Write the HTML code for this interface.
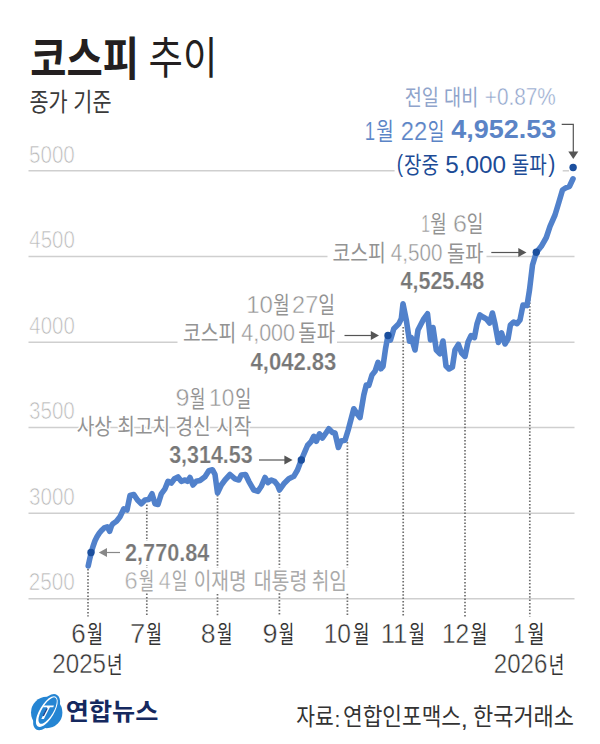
<!DOCTYPE html>
<html lang="ko">
<head>
<meta charset="utf-8">
<title>코스피 추이</title>
<style>
html,body{margin:0;padding:0;background:#fff;}
body{width:600px;height:744px;overflow:hidden;font-family:"Liberation Sans","Noto Sans CJK KR",sans-serif;}
svg{display:block;}
svg text{font-family:"Liberation Sans","Noto Sans CJK KR",sans-serif;}
</style>
</head>
<body>
<svg width="600" height="744" viewBox="0 0 600 744">
<rect width="600" height="744" fill="#fff"/>
<g stroke="#cfcfcf" stroke-width="1.5" fill="none">
<line x1="28.5" y1="170.8" x2="394.6" y2="170.8"/>
<line x1="562.7" y1="170.8" x2="569" y2="170.8"/>
<line x1="28.5" y1="256.4" x2="327.5" y2="256.4"/>
<line x1="486.5" y1="256.4" x2="574.5" y2="256.4"/>
<line x1="28.5" y1="342.2" x2="177.5" y2="342.2"/>
<line x1="337" y1="342.2" x2="574.5" y2="342.2"/>
<line x1="28.5" y1="427.6" x2="574.5" y2="427.6"/>
<line x1="28.5" y1="513.2" x2="574.5" y2="513.2"/>
<line x1="28.5" y1="598.75" x2="574.5" y2="598.75"/>
</g>
<g class="yl">
<text x="28.98" y="162.5" font-size="23.92" textLength="45.83" lengthAdjust="spacingAndGlyphs" fill="#b8b8b8" stroke="#fff" stroke-width="0.7">5000</text>
<text x="29.33" y="248.1" font-size="23.92" textLength="45.47" lengthAdjust="spacingAndGlyphs" fill="#b8b8b8" stroke="#fff" stroke-width="0.7">4500</text>
<text x="29.33" y="333.9" font-size="23.92" textLength="45.47" lengthAdjust="spacingAndGlyphs" fill="#b8b8b8" stroke="#fff" stroke-width="0.7">4000</text>
<text x="29.02" y="419.3" font-size="23.92" textLength="45.79" lengthAdjust="spacingAndGlyphs" fill="#b8b8b8" stroke="#fff" stroke-width="0.7">3500</text>
<text x="29.02" y="504.9" font-size="23.92" textLength="45.79" lengthAdjust="spacingAndGlyphs" fill="#b8b8b8" stroke="#fff" stroke-width="0.7">3000</text>
<text x="28.76" y="590.45" font-size="23.92" textLength="46.05" lengthAdjust="spacingAndGlyphs" fill="#b8b8b8" stroke="#fff" stroke-width="0.7">2500</text>
</g>
<g stroke="#6e6e6e" stroke-width="1.7" stroke-dasharray="1.5 1.8" fill="none">
<line x1="88" y1="569" x2="88" y2="616.5"/>
<line x1="146.8" y1="504.5" x2="146.8" y2="616.5"/>
<line x1="217.5" y1="495" x2="217.5" y2="616.5"/>
<line x1="279.4" y1="491" x2="279.4" y2="616.5"/>
<line x1="347.4" y1="442" x2="347.4" y2="616.5"/>
<line x1="403.2" y1="327" x2="403.2" y2="616.5"/>
<line x1="465" y1="357.5" x2="465" y2="616.5"/>
<line x1="529.8" y1="296" x2="529.8" y2="616.5"/>
</g>
<path d="M88.2 566 L89.6 559.5 L91.25 552.5 L93 546.5 L95 540.8 L97 536.8 L99.2 533.3 L101.5 530.5 L104.2 527.9 L107.3 526.8 L109.6 531.3 L111.2 526.5 L112.6 524 L116.5 521.3 L120 516.8 L123.8 508.8 L127 510 L130 495.5 L133.8 494.5 L137.5 500 L141.3 503.8 L145 500 L148.8 499.5 L152 493.8 L155 503.8 L158 504.5 L161.3 493.8 L165 488.8 L168 481.3 L171.3 483 L174.5 478.8 L178 477 L181.3 481.3 L185 480 L187.5 481.3 L190 477.5 L193 485 L196.3 481.3 L200 480.5 L205 476.8 L208.8 470.8 L212.5 469.8 L215 474.5 L217.5 493 L221.3 485 L225 480 L230 474.5 L235 478.8 L238.8 480 L241.3 475 L245.5 474.5 L248.8 481.3 L253.8 490 L258 491.3 L261.3 486.3 L265 477.5 L268 482.5 L271.3 480 L274.5 481.3 L277.5 485 L279.5 490 L283.8 483.8 L288.8 478.8 L293.8 476.3 L297.5 470 L301.3 460 L305 451.3 L307.5 445.5 L311.3 441.3 L313.8 436.3 L316.3 441.3 L319.5 433.8 L322.5 438 L326.3 432.5 L328.8 428.8 L332.5 432.5 L335 433 L338.4 447.5 L341 441 L345 440.3 L348.2 430 L353.8 408.8 L357 413.8 L360 417.5 L363.8 395 L366.3 385 L368.8 385.5 L372 375 L375 371.3 L378 362.5 L380.8 368.8 L383 366.3 L385.5 348.8 L388 335.5 L390.5 340 L393.8 328.8 L398.8 323.8 L401.3 318.8 L403 303.8 L406.3 320 L409.5 341.3 L411.3 337.5 L415 350 L418 330 L423.8 318.8 L427.5 313.8 L430.5 340 L433 327.5 L436.3 350 L440 353.8 L443 341 L446 366 L449 369 L452.4 367 L455 350 L458.4 344.4 L461.6 353 L465 356.4 L468 342 L471 335.6 L474.4 337.6 L477 324 L480 315 L483 317 L486.4 319 L489.6 323 L492.4 313 L495 324 L498.4 342.4 L501.6 333 L505 344 L508 339 L510.4 325 L513.6 322 L517 323.6 L520 320 L523 305 L527 305.6 L529.5 290 L532.5 265 L536.3 252.5 L541.3 246.3 L546.3 237.5 L550 226.3 L555 215 L558.8 202.5 L562.5 190 L565.5 188 L569.5 186.3 L573 178.8" fill="none" stroke="#5181cb" stroke-width="5.6" stroke-linejoin="round" stroke-linecap="round"/>
<circle cx="91" cy="552.5" r="3.7" fill="#1b4f9e"/>
<circle cx="301.3" cy="460" r="3.7" fill="#1b4f9e"/>
<circle cx="388" cy="335.5" r="3.7" fill="#1b4f9e"/>
<circle cx="536.3" cy="252.3" r="3.7" fill="#1b4f9e"/>
<circle cx="573.1" cy="167.5" r="3.7" fill="#1b4f9e"/>
<line x1="104.8" y1="552.5" x2="120" y2="552.5" stroke="#888" stroke-width="1.2"/>
<path d="M98.8 552.5 l8.2 -4.4 v8.8 z" fill="#888"/>
<line x1="259" y1="460" x2="286.6" y2="460" stroke="#555" stroke-width="1.2"/>
<path d="M292.6 460 l-8.2 -4.4 v8.8 z" fill="#555"/>
<line x1="344.5" y1="335.5" x2="373" y2="335.5" stroke="#555" stroke-width="1.2"/>
<path d="M379 335.5 l-8.2 -4.4 v8.8 z" fill="#555"/>
<line x1="491.3" y1="252.5" x2="520.5" y2="252.5" stroke="#555" stroke-width="1.2"/>
<path d="M526.5 252.5 l-8.2 -4.4 v8.8 z" fill="#555"/>
<path d="M561.7 124.4 H573.3 V153" fill="none" stroke="#555" stroke-width="1.2"/>
<path d="M573.3 159 l-5 -7.6 h10 z" fill="#555"/>
<text x="30.2" y="75" font-size="46" font-weight="700" textLength="108.8" lengthAdjust="spacingAndGlyphs" fill="#231f20">코스피</text>
<text x="148.6" y="74" font-size="44" textLength="68.8" lengthAdjust="spacingAndGlyphs" fill="#231f20">추이</text>
<text x="29.4" y="110.8" font-size="25.5" textLength="82.1" lengthAdjust="spacingAndGlyphs" fill="#3a3a3a">종가 기준</text>
<text x="71.18" y="642.8" font-size="27.21" textLength="14.46" lengthAdjust="spacingAndGlyphs" fill="#333" stroke="#fff" stroke-width="0.45">6</text>
<text x="87" y="642.5" font-size="24" textLength="16" lengthAdjust="spacingAndGlyphs" fill="#333">월</text>
<text x="129.89" y="642.8" font-size="27.62" textLength="15.29" lengthAdjust="spacingAndGlyphs" fill="#333" stroke="#fff" stroke-width="0.45">7</text>
<text x="146.3" y="642.5" font-size="24" textLength="15.7" lengthAdjust="spacingAndGlyphs" fill="#333">월</text>
<text x="200.84" y="642.8" font-size="27.21" textLength="14.82" lengthAdjust="spacingAndGlyphs" fill="#333" stroke="#fff" stroke-width="0.45">8</text>
<text x="217" y="642.5" font-size="24" textLength="15.5" lengthAdjust="spacingAndGlyphs" fill="#333">월</text>
<text x="262.53" y="642.8" font-size="27.21" textLength="15.05" lengthAdjust="spacingAndGlyphs" fill="#333" stroke="#fff" stroke-width="0.45">9</text>
<text x="278.8" y="642.5" font-size="24" textLength="15.5" lengthAdjust="spacingAndGlyphs" fill="#333">월</text>
<text x="323.63" y="642.8" font-size="27.21" textLength="27.33" lengthAdjust="spacingAndGlyphs" fill="#333" stroke="#fff" stroke-width="0.45">10</text>
<text x="353" y="642.5" font-size="24" textLength="16.5" lengthAdjust="spacingAndGlyphs" fill="#333">월</text>
<text x="380.66" y="642.8" font-size="27.62" textLength="26.81" lengthAdjust="spacingAndGlyphs" fill="#333" stroke="#fff" stroke-width="0.45">11</text>
<text x="408.8" y="642.5" font-size="24" textLength="16.2" lengthAdjust="spacingAndGlyphs" fill="#333">월</text>
<text x="441.93" y="642.8" font-size="27.21" textLength="27.3" lengthAdjust="spacingAndGlyphs" fill="#333" stroke="#fff" stroke-width="0.45">12</text>
<text x="470.5" y="642.5" font-size="24" textLength="17" lengthAdjust="spacingAndGlyphs" fill="#333">월</text>
<text x="513.45" y="642.8" font-size="27.62" textLength="11.35" lengthAdjust="spacingAndGlyphs" fill="#333" stroke="#fff" stroke-width="0.45">1</text>
<text x="527.5" y="642.5" font-size="24" textLength="17" lengthAdjust="spacingAndGlyphs" fill="#333">월</text>
<text x="52.29" y="673.3" font-size="26.92" textLength="53.73" lengthAdjust="spacingAndGlyphs" fill="#333" stroke="#fff" stroke-width="0.45">2025</text>
<text x="107" y="672.6" font-size="23" textLength="15.5" lengthAdjust="spacingAndGlyphs" fill="#333">년</text>
<text x="493.79" y="673.3" font-size="26.92" textLength="53.57" lengthAdjust="spacingAndGlyphs" fill="#333" stroke="#fff" stroke-width="0.45">2026</text>
<text x="548.8" y="672.6" font-size="23" textLength="15.5" lengthAdjust="spacingAndGlyphs" fill="#333">년</text>
<text x="404.7" y="105.3" font-size="21.8" textLength="73.6" lengthAdjust="spacingAndGlyphs" fill="#8fa4cb">전일 대비</text>
<text x="484.79" y="105.3" font-size="24.35" textLength="70.95" lengthAdjust="spacingAndGlyphs" fill="#8fa4cb" stroke="#fff" stroke-width="0.45">+0.87%</text>
<text x="364.79" y="139.8" font-size="26.6" textLength="10.32" lengthAdjust="spacingAndGlyphs" fill="#5b84c6" stroke="#fff" stroke-width="0.2">1</text>
<text x="376.2" y="140.1" font-size="24" textLength="17.5" lengthAdjust="spacingAndGlyphs" fill="#5b84c6">월</text>
<text x="400.81" y="139.8" font-size="26.21" textLength="26.39" lengthAdjust="spacingAndGlyphs" fill="#5b84c6" stroke="#fff" stroke-width="0.2">22</text>
<text x="427.8" y="140.1" font-size="24" textLength="16.7" lengthAdjust="spacingAndGlyphs" fill="#5b84c6">일</text>
<text x="451.39" y="137.6" font-size="26.07" textLength="104.98" lengthAdjust="spacingAndGlyphs" font-weight="700" fill="#5b84c6">4,952.53</text>
<text x="396.63" y="172.7" font-size="24.6" textLength="6.28" lengthAdjust="spacingAndGlyphs" fill="#1c4b96" dy="-1.2">(</text>
<text x="404" y="172.7" font-size="22.3" textLength="34.9" lengthAdjust="spacingAndGlyphs" fill="#1c4b96">장중</text>
<text x="445.23" y="172.7" font-size="24.63" textLength="60.72" lengthAdjust="spacingAndGlyphs" fill="#1c4b96">5,000</text>
<text x="511.7" y="172.6" font-size="23" textLength="35" lengthAdjust="spacingAndGlyphs" fill="#1c4b96">돌파</text>
<text x="548.37" y="172.7" font-size="24.6" textLength="7.16" lengthAdjust="spacingAndGlyphs" fill="#1c4b96" dy="-1.2">)</text>
<text x="421.32" y="231.8" font-size="23.98" textLength="8.64" lengthAdjust="spacingAndGlyphs" fill="#939393" stroke="#fff" stroke-width="0.45">1</text>
<text x="430.3" y="232.2" font-size="22.5" textLength="16.4" lengthAdjust="spacingAndGlyphs" fill="#939393">월</text>
<text x="452.92" y="231.8" font-size="23.63" textLength="13.98" lengthAdjust="spacingAndGlyphs" fill="#939393" stroke="#fff" stroke-width="0.45">6</text>
<text x="466.7" y="232.2" font-size="22.5" textLength="16.6" lengthAdjust="spacingAndGlyphs" fill="#939393">일</text>
<text x="332.5" y="260.8" font-size="22.4" textLength="53.3" lengthAdjust="spacingAndGlyphs" fill="#939393">코스피</text>
<text x="390.83" y="261.2" font-size="23.49" textLength="51.68" lengthAdjust="spacingAndGlyphs" fill="#939393" stroke="#fff" stroke-width="0.45">4,500</text>
<text x="447" y="261.3" font-size="22" textLength="36.3" lengthAdjust="spacingAndGlyphs" fill="#939393">돌파</text>
<text x="400.47" y="288.7" font-size="23.63" textLength="83.79" lengthAdjust="spacingAndGlyphs" font-weight="700" fill="#777" stroke="#fff" stroke-width="0.2">4,525.48</text>
<text x="246.17" y="312.5" font-size="23.92" textLength="26.77" lengthAdjust="spacingAndGlyphs" fill="#939393" stroke="#fff" stroke-width="0.45">10</text>
<text x="273.3" y="312.9" font-size="22.3" textLength="16.4" lengthAdjust="spacingAndGlyphs" fill="#939393">월</text>
<text x="292.12" y="312.5" font-size="23.92" textLength="26.06" lengthAdjust="spacingAndGlyphs" fill="#939393" stroke="#fff" stroke-width="0.45">27</text>
<text x="318.3" y="312.9" font-size="22.5" textLength="16.7" lengthAdjust="spacingAndGlyphs" fill="#939393">일</text>
<text x="183" y="341" font-size="22.8" textLength="53.3" lengthAdjust="spacingAndGlyphs" fill="#939393">코스피</text>
<text x="241.21" y="341" font-size="23.63" textLength="53.83" lengthAdjust="spacingAndGlyphs" fill="#939393" stroke="#fff" stroke-width="0.45">4,000</text>
<text x="298.3" y="341.1" font-size="22.5" textLength="36.7" lengthAdjust="spacingAndGlyphs" fill="#939393">돌파</text>
<text x="250.47" y="369.5" font-size="23.92" textLength="85.93" lengthAdjust="spacingAndGlyphs" font-weight="700" fill="#777" stroke="#fff" stroke-width="0.2">4,042.83</text>
<text x="175.52" y="406.3" font-size="23.77" textLength="13.97" lengthAdjust="spacingAndGlyphs" fill="#939393" stroke="#fff" stroke-width="0.45">9</text>
<text x="189.7" y="406.7" font-size="22.3" textLength="15.6" lengthAdjust="spacingAndGlyphs" fill="#939393">월</text>
<text x="209.08" y="406.3" font-size="23.77" textLength="25.1" lengthAdjust="spacingAndGlyphs" fill="#939393" stroke="#fff" stroke-width="0.45">10</text>
<text x="235.3" y="406.5" font-size="22.5" textLength="16" lengthAdjust="spacingAndGlyphs" fill="#939393">일</text>
<text x="76.7" y="434.4" font-size="21.6" textLength="174.6" lengthAdjust="spacingAndGlyphs" fill="#939393" stroke="#fff" stroke-width="3.4" paint-order="stroke" stroke-linejoin="round">사상 최고치 경신 시작</text>
<text x="169.21" y="463.3" font-size="23.77" textLength="83.37" lengthAdjust="spacingAndGlyphs" font-weight="700" fill="#777" stroke="#fff" stroke-width="0.2">3,314.53</text>
<rect x="124" y="541" width="87" height="24" fill="#fff"/>
<rect x="124" y="567.5" width="225" height="25.5" fill="#fff"/>
<text x="125.05" y="561" font-size="23.92" textLength="84.27" lengthAdjust="spacingAndGlyphs" font-weight="700" fill="#777" stroke="#fff" stroke-width="0.2">2,770.84</text>
<text x="124.6" y="589.2" font-size="23.92" textLength="13.14" lengthAdjust="spacingAndGlyphs" fill="#aaa" stroke="#fff" stroke-width="0.45">6</text>
<text x="138.7" y="589.3" font-size="22.3" textLength="15.5" lengthAdjust="spacingAndGlyphs" fill="#aaa">월</text>
<text x="158.71" y="589.2" font-size="24.27" textLength="11.92" lengthAdjust="spacingAndGlyphs" fill="#aaa" stroke="#fff" stroke-width="0.45">4</text>
<text x="171.7" y="588.9" font-size="22.4" textLength="15.8" lengthAdjust="spacingAndGlyphs" fill="#aaa">일</text>
<text x="193.7" y="588.9" font-size="22.4" textLength="53" lengthAdjust="spacingAndGlyphs" fill="#aaa">이재명</text>
<text x="253.7" y="588.8" font-size="22.6" textLength="53.8" lengthAdjust="spacingAndGlyphs" fill="#aaa">대통령</text>
<text x="311.7" y="588.8" font-size="22.8" textLength="35.3" lengthAdjust="spacingAndGlyphs" fill="#aaa">취임</text>
<text x="65.8" y="720.2" font-size="23.5" font-weight="700" textLength="92.6" lengthAdjust="spacingAndGlyphs" fill="#15295f">연합뉴스</text>
<text x="296.3" y="725.3" font-size="24" textLength="37.5" lengthAdjust="spacingAndGlyphs" fill="#333">자료</text>
<text x="334.58" y="727" font-size="22" textLength="5.84" lengthAdjust="spacingAndGlyphs" fill="#333">:</text>
<text x="343" y="725.3" font-size="24" textLength="118" lengthAdjust="spacingAndGlyphs" fill="#333">연합인포맥스</text>
<text x="460.71" y="727" font-size="22" textLength="7.08" lengthAdjust="spacingAndGlyphs" fill="#333">,</text>
<text x="473" y="725.3" font-size="24" textLength="101" lengthAdjust="spacingAndGlyphs" fill="#333">한국거래소</text>
<g role="img" aria-label="연합뉴스 로고">
<circle cx="46.7" cy="712.5" r="15.7" fill="#2585d3"/>
<ellipse cx="46.6" cy="712.2" rx="10" ry="20.2" transform="rotate(31 46.6 712.2)" fill="#2585d3"/>
<g transform="rotate(31 46.8 711.6)">
<path fill="#fff" fill-rule="evenodd" d="M46.8 694.2a7.2 17.4 0 1 0 0.01 0zM47 695.2a5.7 15.1 0 1 1 -0.01 0z"/>
</g>
<path d="M43.6 705.4h10.3l-0.6 1.9h-3.4l-6 11.6h-2.6l6-11.6h-4.3z" fill="#fff"/>
<path d="M47.2 708.3l-4 7.6" stroke="#1a3d86" stroke-width="1.3" fill="none"/>
</g>
</svg>
</body>
</html>
